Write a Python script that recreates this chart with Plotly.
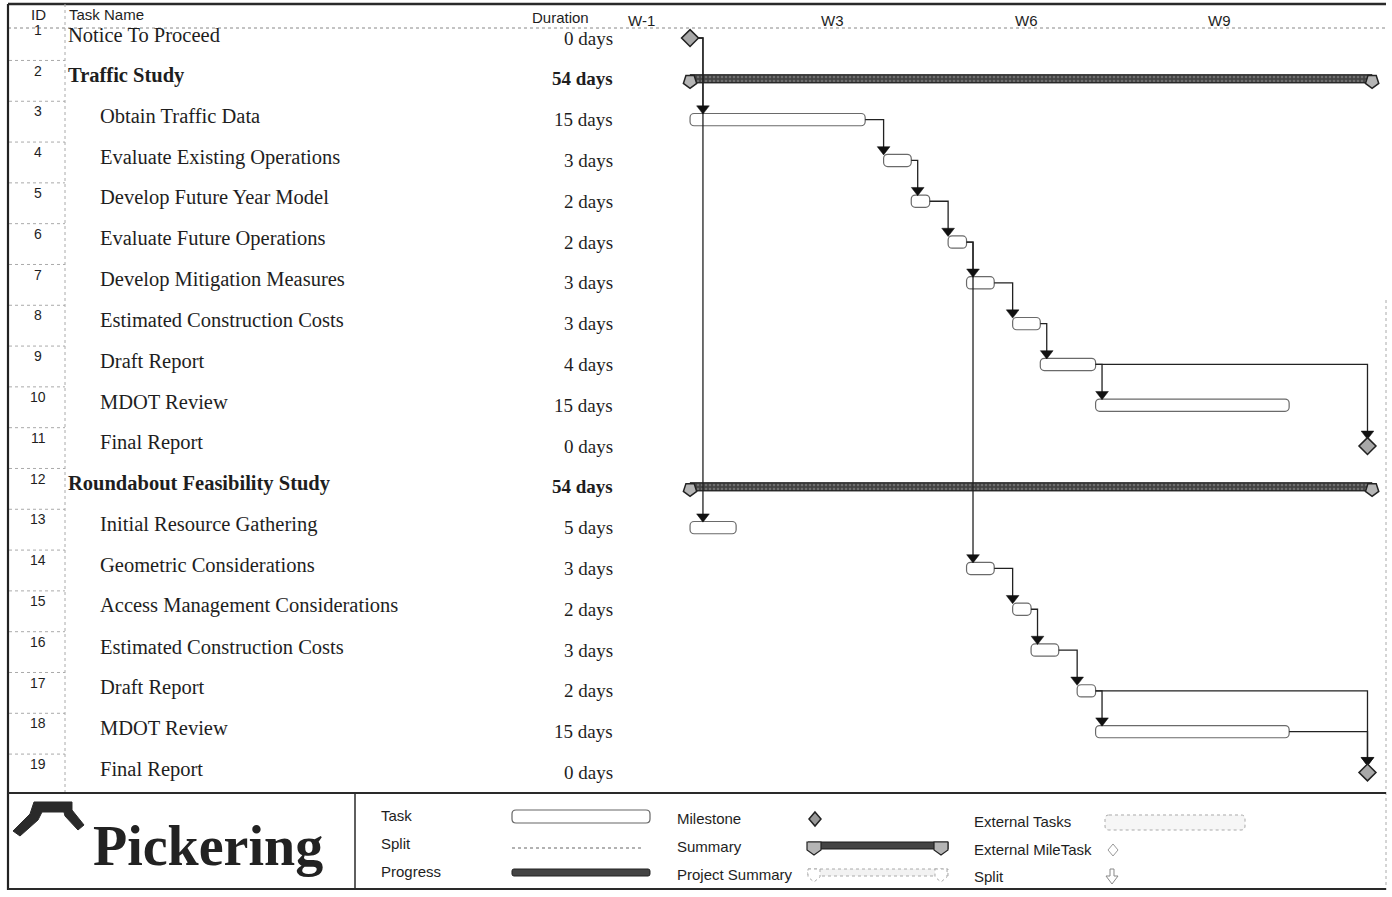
import plotly.graph_objects as go

# ---------------- data ----------------
ids = list(range(1, 20))
task_names = [
    "Notice To Proceed", "Traffic Study", "Obtain Traffic Data",
    "Evaluate Existing Operations", "Develop Future Year Model",
    "Evaluate Future Operations", "Develop Mitigation Measures",
    "Estimated Construction Costs", "Draft Report", "MDOT Review",
    "Final Report", "Roundabout Feasibility Study", "Initial Resource Gathering",
    "Geometric Considerations", "Access Management Considerations",
    "Estimated Construction Costs", "Draft Report", "MDOT Review", "Final Report",
]
durations = ["0 days", "54 days", "15 days", "3 days", "2 days", "2 days", "3 days",
             "3 days", "4 days", "15 days", "0 days", "54 days", "5 days", "3 days",
             "2 days", "3 days", "2 days", "15 days", "0 days"]
levels = [0, 0, 1, 1, 1, 1, 1, 1, 1, 1, 1, 0, 1, 1, 1, 1, 1, 1, 1]
kinds = ["milestone", "summary", "task", "task", "task", "task", "task", "task", "task",
         "task", "milestone", "summary", "task", "task", "task", "task", "task", "task",
         "milestone"]
# calendar day offsets from project start (Monday of W1)
starts = [0, 0, 0, 21, 24, 28, 30, 35, 38, 44, 73.5, 0, 0, 30, 35, 37, 42, 44, 73.5]
finishes = [0, 74, 19, 24, 26, 30, 33, 38, 44, 65, 73.5, 74, 5, 33, 37, 40, 44, 65, 73.5]
links = [(1, 3), (1, 13), (3, 4), (4, 5), (5, 6), (6, 7), (6, 14), (7, 8), (8, 9),
         (9, 10), (9, 11), (14, 15), (15, 16), (16, 17), (17, 18), (17, 19), (18, 19)]
week_labels = ["W-1", "W3", "W6", "W9"]
week_starts = [-7, 14, 35, 56]

legend_col1 = ["Task", "Split", "Progress"]
legend_col2 = ["Milestone", "Summary", "Project Summary"]
legend_col3 = ["External Tasks", "External MileTask", "Split"]

# ---------------- helpers (page geometry) ----------------
W, H = 1392, 897
def px(x): return x / W
def py(y): return 1 - y / H

SERIF = "Liberation Serif"
SANS = "Liberation Sans"
INK = "#1e1e1e"

fig = go.Figure()

# task bars
t_idx = [i for i, k in enumerate(kinds) if k == "task"]
fig.add_trace(go.Bar(
    orientation="h",
    y=[ids[i] for i in t_idx],
    base=[starts[i] for i in t_idx],
    x=[finishes[i] - starts[i] for i in t_idx],
    width=0.3,
    marker=dict(color="white", line=dict(color="#6a6a6a", width=1.2), cornerradius=4),
    hoverinfo="skip",
))

# summary bars
s_idx = [i for i, k in enumerate(kinds) if k == "summary"]
fig.add_trace(go.Bar(
    orientation="h",
    y=[ids[i] for i in s_idx],
    base=[starts[i] for i in s_idx],
    x=[finishes[i] - starts[i] for i in s_idx],
    width=0.2,
    marker=dict(color="#444", line=dict(color="#151515", width=1),
                pattern=dict(shape=".", fgcolor="#9a9a9a", size=4, solidity=0.3)),
    hoverinfo="skip",
))
# summary end caps
cap_x, cap_y = [], []
for i in s_idx:
    cap_x += [starts[i], finishes[i]]
    cap_y += [ids[i] + 0.06, ids[i] + 0.06]
fig.add_trace(go.Scatter(
    x=cap_x, y=cap_y, mode="markers",
    marker=dict(symbol="pentagon", angle=180, size=14, color="#b5b5b5",
                line=dict(color="#222", width=1.5)),
    hoverinfo="skip",
))

# dependency links
lx, ly, ax, ay = [], [], [], []
for p, s in links:
    pi, si = p - 1, s - 1
    pend = finishes[pi]
    sst = starts[si]
    if kinds[si] == "milestone":
        vx = sst
        top = ids[si] - 0.3
    else:
        off = 1.4 if kinds[pi] == "milestone" else 0.7
        vx = max(sst, pend + off)
        top = ids[si] - 0.27
    lx += [pend, vx, vx, None]
    ly += [ids[pi], ids[pi], top, None]
    ax.append(vx)
    ay.append(top)
fig.add_trace(go.Scatter(x=lx, y=ly, mode="lines",
                         line=dict(color="#222", width=1.3), hoverinfo="skip"))
fig.add_trace(go.Scatter(x=ax, y=ay, mode="markers",
                         marker=dict(symbol="triangle-down", size=11, color="#111",
                                     line=dict(color="#111", width=0.5)),
                         hoverinfo="skip"))

# milestones
m_idx = [i for i, k in enumerate(kinds) if k == "milestone"]
fig.add_trace(go.Scatter(
    x=[starts[i] for i in m_idx], y=[ids[i] for i in m_idx], mode="markers",
    marker=dict(symbol="diamond", size=13, color="#a8a8a8",
                line=dict(color="#222", width=1.6)),
    hoverinfo="skip",
))

annotations = []
shapes = []

def ptext(x, y, text, anchor="left", size=14, family=SANS, color=INK):
    annotations.append(dict(xref="paper", yref="paper", x=px(x), y=py(y), text=text,
                            showarrow=False, xanchor=anchor, yanchor="middle",
                            font=dict(family=family, size=size, color=color)))

# table text
for i in range(19):
    bold = kinds[i] == "summary"
    annotations.append(dict(xref="paper", yref="y", x=px(38), y=ids[i] - 0.2,
                            text=str(ids[i]), showarrow=False, xanchor="center",
                            yanchor="middle",
                            font=dict(family=SANS, size=14, color=INK)))
    nx = 66 if levels[i] == 0 else 98
    annotations.append(dict(xref="paper", yref="y", x=px(nx), y=ids[i] - 0.08,
                            text=("<b>%s</b>" % task_names[i]) if bold else task_names[i],
                            showarrow=False, xanchor="left", yanchor="middle",
                            font=dict(family=SERIF, size=20.5, color=INK)))
    annotations.append(dict(xref="paper", yref="y", x=px(615), y=ids[i],
                            text=("<b>%s</b>" % durations[i]) if bold else durations[i],
                            showarrow=False, xanchor="right", yanchor="middle",
                            font=dict(family=SERIF, size=19, color=INK)))
    # ID column row separators
    if i < 18:
        shapes.append(dict(type="line", xref="paper", yref="y", x0=px(9), x1=px(65),
                           y0=ids[i] + 0.55, y1=ids[i] + 0.55,
                           line=dict(color="#aaa", width=1, dash="dot")))

# header
ptext(38, 14, "ID", "center", 15)
ptext(67, 14, "Task Name", "left", 15)
ptext(591, 18, "Duration", "right", 15)
for lab, d in zip(week_labels, week_starts):
    annotations.append(dict(xref="x", yref="paper", x=d, y=py(20), text=lab,
                            showarrow=False, xanchor="left", yanchor="middle",
                            font=dict(family=SANS, size=15, color=INK)))

# frame lines
def hline(y, x0, x1, w=1, c="#222", dash="solid"):
    shapes.append(dict(type="line", xref="paper", yref="paper", x0=px(x0), x1=px(x1),
                       y0=py(y), y1=py(y), line=dict(color=c, width=w, dash=dash)))
def vline(x, y0, y1, w=1, c="#222", dash="solid"):
    shapes.append(dict(type="line", xref="paper", yref="paper", x0=px(x), x1=px(x),
                       y0=py(y0), y1=py(y1), line=dict(color=c, width=w, dash=dash)))

hline(4, 8, 1386, 2.5, "#2a2a2a")
hline(28, 8, 1386, 1, "#888", "dot")
vline(8, 4, 890, 2.2, "#222")
vline(65, 4, 792, 1, "#aaa", "dot")
vline(1386, 300, 890, 1, "#aaa", "dot")
hline(793, 8, 1386, 2, "#2a2a2a")
hline(889, 8, 1386, 2, "#2a2a2a")
vline(355, 793, 889, 1.5, "#2a2a2a")

# legend
def path_px(points, close=True):
    s = "M " + " L ".join("%f,%f" % (px(x), py(y)) for x, y in points)
    return s + (" Z" if close else "")

def rrect(x0, y0, x1, y1, r):
    return ("M %f,%f L %f,%f Q %f,%f %f,%f L %f,%f Q %f,%f %f,%f L %f,%f Q %f,%f %f,%f "
            "L %f,%f Q %f,%f %f,%f Z") % (
        px(x0 + r), py(y0), px(x1 - r), py(y0), px(x1), py(y0), px(x1), py(y0 + r),
        px(x1), py(y1 - r), px(x1), py(y1), px(x1 - r), py(y1),
        px(x0 + r), py(y1), px(x0), py(y1), px(x0), py(y1 - r),
        px(x0), py(y0 + r), px(x0), py(y0), px(x0 + r), py(y0))

for lab, y in zip(legend_col1, [815, 843, 871]):
    ptext(379, y, lab, "left", 15)
for lab, y in zip(legend_col2, [818, 846, 874]):
    ptext(675, y, lab, "left", 15)
for lab, y in zip(legend_col3, [821, 849, 876]):
    ptext(972, y, lab, "left", 15)

# Task symbol
shapes.append(dict(type="path", xref="paper", yref="paper", path=rrect(512, 810, 650, 823, 4),
                   fillcolor="white", line=dict(color="#666", width=1.2)))
# Split symbol
hline(848, 512, 642, 1.5, "#999", "dot")
# Progress symbol
shapes.append(dict(type="path", xref="paper", yref="paper", path=rrect(512, 869, 650, 876, 2),
                   fillcolor="#444", line=dict(color="#222", width=1)))
# Milestone symbol
shapes.append(dict(type="path", xref="paper", yref="paper",
                   path=path_px([(815, 812), (821, 819), (815, 826), (809, 819)]),
                   fillcolor="#999", line=dict(color="#222", width=1.5)))
# Summary symbol
shapes.append(dict(type="path", xref="paper", yref="paper",
                   path=path_px([(808, 842), (948, 842), (948, 849), (808, 849)]),
                   fillcolor="#444", line=dict(color="#1a1a1a", width=1)))
for cx in (814, 941):
    shapes.append(dict(type="path", xref="paper", yref="paper",
                       path=path_px([(cx - 7, 842), (cx + 7, 842), (cx + 7, 850), (cx, 855), (cx - 7, 850)]),
                       fillcolor="#b5b5b5", line=dict(color="#222", width=1.2)))
# Project summary symbol
shapes.append(dict(type="path", xref="paper", yref="paper",
                   path=path_px([(808, 869), (948, 869), (948, 876), (808, 876)]),
                   fillcolor="#f2f2f2", line=dict(color="#aaa", width=1, dash="dot")))
for cx in (814, 941):
    shapes.append(dict(type="path", xref="paper", yref="paper",
                       path=path_px([(cx - 6, 869), (cx + 6, 869), (cx + 6, 877), (cx, 882), (cx - 6, 877)]),
                       fillcolor="white", line=dict(color="#aaa", width=1, dash="dot")))
# External tasks symbol
shapes.append(dict(type="path", xref="paper", yref="paper", path=rrect(1105, 815, 1245, 830, 4),
                   fillcolor="#f6f6f6", line=dict(color="#aaa", width=1, dash="dot")))
# External milestone symbol
shapes.append(dict(type="path", xref="paper", yref="paper",
                   path=path_px([(1113, 844), (1118, 850), (1113, 856), (1108, 850)]),
                   fillcolor="white", line=dict(color="#999", width=1)))
# Split (arrow) symbol
shapes.append(dict(type="path", xref="paper", yref="paper",
                   path=path_px([(1110, 869), (1114, 869), (1114, 876), (1118, 876), (1112, 884),
                                 (1106, 876), (1110, 876)]),
                   fillcolor="white", line=dict(color="#888", width=1)))

# logo
shapes.append(dict(type="path", xref="paper", yref="paper",
                   path=path_px([(13, 831), (30, 814), (34, 802), (72, 802), (72, 810),
                                 (84, 825), (78, 830), (65, 816), (64, 812), (42, 812),
                                 (38, 820), (20, 836)]),
                   fillcolor="#2a2a2a", line=dict(color="#2a2a2a", width=1)))
ptext(91, 846, "<b>Pickering</b>", "left", 56, SERIF, "#222")

fig.update_layout(
    width=W, height=H,
    margin=dict(l=0, r=0, t=0, b=0),
    paper_bgcolor="white", plot_bgcolor="white",
    showlegend=False, barmode="overlay",
    xaxis=dict(domain=[px(620), px(1385)], range=[-7.6, 75.4], visible=False,
               showgrid=False, zeroline=False),
    yaxis=dict(domain=[py(790), py(27)], range=[19.43, 0.73], visible=False,
               showgrid=False, zeroline=False),
    annotations=annotations, shapes=shapes,
)

fig.write_html("out.html", config={"displayModeBar": False},
               post_script="document.body.style.margin='0px';document.body.style.overflow='hidden';")
